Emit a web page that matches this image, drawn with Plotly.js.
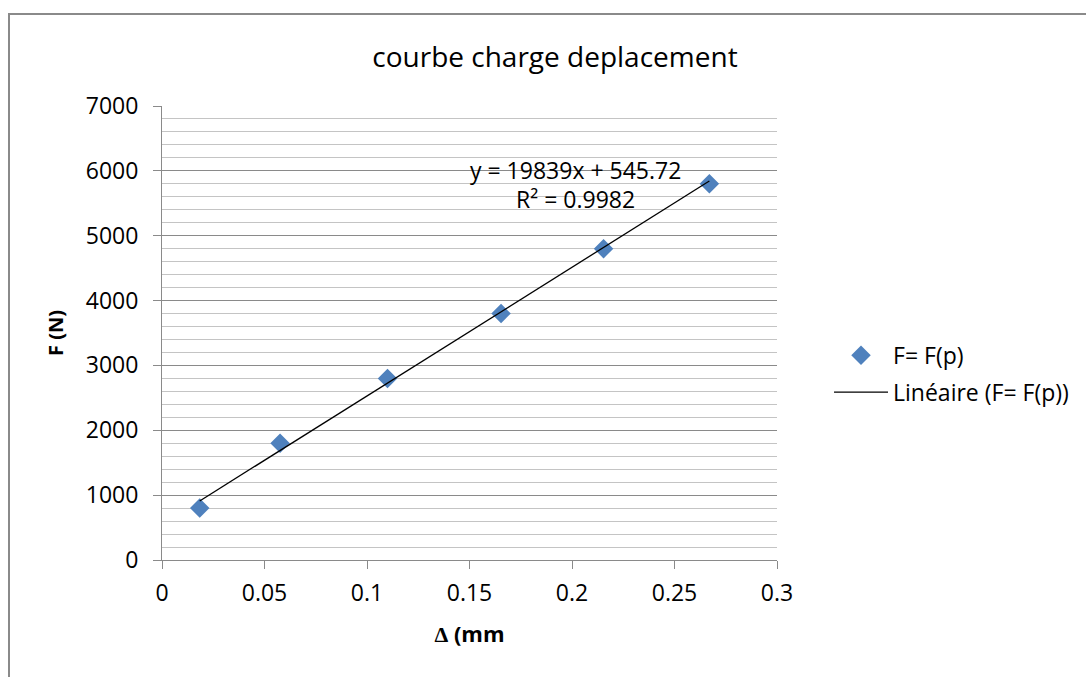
<!DOCTYPE html>
<html>
<head>
<meta charset="utf-8">
<script src="https://cdn.plot.ly/plotly-3.0.1.min.js"></script>
<style>
html,body{margin:0;padding:0;background:#fff;}
#wrap{position:relative;width:1086px;height:677px;overflow:hidden;}
#chart{position:absolute;left:0;top:0;width:1086px;height:677px;}
#frame{position:absolute;left:8px;top:13px;width:1200px;height:800px;border-left:2px solid #8a8a8a;border-top:2px solid #8a8a8a;pointer-events:none;}
</style>
</head>
<body>
<div id="wrap"><div id="chart"></div><div id="frame"></div></div>
<script>
// Data
const displacement = [0.0184, 0.0576, 0.110, 0.1654, 0.2154, 0.267]; // Δ (mm)
const force = [800, 1800, 2800, 3800, 4800, 5800];                   // F (N)
const seriesName = 'F= F(p)';
const trendName = 'Linéaire (F= F(p))';
const trendSlope = 19839;
const trendIntercept = 545.72;
const equationText = 'y = 19839x + 545.72';
const r2Text = 'R² = 0.9982';
const xTicks = [0, 0.05, 0.1, 0.15, 0.2, 0.25, 0.3];
const yTicks = [0, 1000, 2000, 3000, 4000, 5000, 6000, 7000];

const FONT = '"Open Sans", sans-serif';

const xMin = Math.min(...displacement), xMax = Math.max(...displacement);
const trendX = [xMin, xMax];
const trendY = trendX.map(x => trendSlope * x + trendIntercept);

const traces = [
  {
    x: displacement, y: force, name: seriesName, type: 'scatter', mode: 'markers',
    legendgroup: 'a',
    marker: {symbol: 'diamond', size: 15, color: '#4F81BD', line: {width: 0}}
  },
  {
    x: trendX, y: trendY, name: trendName, type: 'scatter', mode: 'lines',
    legendgroup: 'b',
    line: {color: '#000000', width: 1.3}
  }
];

const layout = {
  width: 1086, height: 677,
  paper_bgcolor: '#ffffff', plot_bgcolor: '#ffffff',
  margin: {l: 162, r: 309, t: 106, b: 117, pad: 0},
  font: {family: FONT, color: '#000', size: 20},
  title: {text: 'courbe charge deplacement', font: {family: FONT, size: 28, color: '#000'},
          x: 0.511, xanchor: 'center', y: 0.915, yanchor: 'middle'},
  showlegend: true,
  legend: {x: 1.0846, xanchor: 'left', y: 0.41, yanchor: 'middle', font: {family: FONT, size: 23},
           traceorder: 'grouped', tracegroupgap: 4, itemwidth: 54, bgcolor: 'rgba(0,0,0,0)'},
  xaxis: {
    range: [0, 0.3], tickvals: xTicks, ticktext: xTicks.map(String),
    showgrid: false, zeroline: false, showline: true, linecolor: '#8a8a8a', linewidth: 1,
    ticks: 'outside', ticklen: 8, tickcolor: '#8a8a8a', tickfont: {family: FONT, size: 23},
    ticklabelstandoff: 4,
    title: {text: '<b><span style="font-family:\'Liberation Serif\'">Δ</span> (mm</b>', font: {family: FONT, size: 22}, standoff: 20},
    fixedrange: true
  },
  yaxis: {
    range: [0, 7000], tickvals: yTicks, ticktext: yTicks.map(String),
    showgrid: true, gridcolor: '#8a8a8a', gridwidth: 1,
    minor: {dtick: 200, showgrid: true, gridcolor: '#c4c4c4', gridwidth: 1, ticks: ''},
    zeroline: false, showline: true, linecolor: '#8a8a8a', linewidth: 1,
    ticks: 'outside', ticklen: 8, tickcolor: '#8a8a8a', tickfont: {family: FONT, size: 23},
    ticklabelstandoff: 10,
    title: {text: '<b>F (N)</b>', font: {family: FONT, size: 20}, standoff: 16},
    fixedrange: true
  },
  annotations: [
    {xref: 'x', yref: 'y', x: 0.2015, y: 6010, text: equationText, showarrow: false,
     font: {family: FONT, size: 23}, xanchor: 'center', yanchor: 'middle'},
    {xref: 'x', yref: 'y', x: 0.2015, y: 5560, text: r2Text, showarrow: false,
     font: {family: FONT, size: 23}, xanchor: 'center', yanchor: 'middle'}
  ]
};

Plotly.newPlot('chart', traces, layout, {displayModeBar: false, staticPlot: true});
</script>
</body>
</html>
